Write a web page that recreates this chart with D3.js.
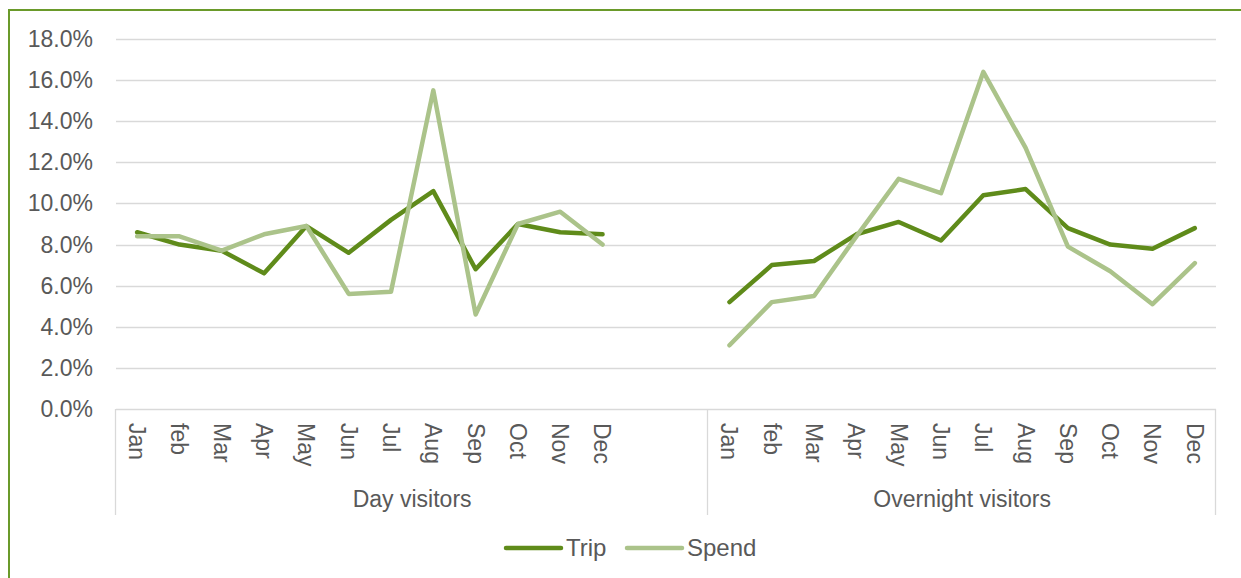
<!DOCTYPE html>
<html><head><meta charset="utf-8">
<script src="https://cdn.jsdelivr.net/npm/d3@7"></script>
<style>body{margin:0;background:#fff}svg{display:block;font-family:"Liberation Sans",Arial,sans-serif}</style>
</head><body><svg id="c" width="1241" height="578"></svg>
<script>
const months = ["Jan","feb","Mar","Apr","May","Jun","Jul","Aug","Sep","Oct","Nov","Dec"];
const groups = ["Day visitors","Overnight visitors"];
const dayTrip = [8.6,8.0,7.7,6.6,8.9,7.6,9.2,10.6,6.8,9.0,8.6,8.5];
const daySpend = [8.4,8.4,7.7,8.5,8.9,5.6,5.7,15.5,4.6,9.0,9.6,8.0];
const nightTrip = [5.2,7.0,7.2,8.5,9.1,8.2,10.4,10.7,8.8,8.0,7.8,8.8];
const nightSpend = [3.1,5.2,5.5,8.4,11.2,10.5,16.4,12.7,7.9,6.7,5.1,7.1];
const yTicks = [0,2,4,6,8,10,12,14,16,18];
const colors = {Trip:"#5F8B1A", Spend:"#ABC38A"};

// category slots: day group has 12 months + 2 blank slots, overnight has 12
const slots = [];
months.forEach((m,i)=>slots.push({g:0,m,i,key:"d"+i}));
slots.push({g:0,m:"",key:"b1"},{g:0,m:"",key:"b2"});
months.forEach((m,i)=>slots.push({g:1,m,i,key:"n"+i}));

const svg = d3.select("#c");
const L=116, R=1216, T=39, B=409;
const FS = 23;
const x = d3.scaleBand().domain(slots.map(s=>s.key)).range([L,R]);
const y = d3.scaleLinear().domain([0,18]).range([B,T]);

// outer border
svg.append("rect").attr("x",9).attr("y",10).attr("width",1250).attr("height",600)
  .attr("fill","none").attr("stroke","#6A9A2A").attr("stroke-width",2);

// gridlines
svg.append("g").selectAll("line").data(yTicks.filter(d=>d>0)).join("line")
  .attr("x1",L).attr("x2",R).attr("y1",d=>Math.round(y(d))+0.5).attr("y2",d=>Math.round(y(d))+0.5)
  .attr("stroke","#D9D9D9").attr("stroke-width",1.3);

// y labels
svg.append("g").selectAll("text").data(yTicks).join("text")
  .attr("x",93).attr("y",d=>y(d)).attr("dy","0.35em").attr("text-anchor","end")
  .attr("font-size",FS).attr("fill","#595959").text(d=>d.toFixed(1)+"%");

// x axis line & group separators
svg.append("line").attr("x1",L).attr("x2",R).attr("y1",B+0.5).attr("y2",B+0.5).attr("stroke","#D9D9D9").attr("stroke-width",1.3);
const sepX = [L, x("n0"), R];
svg.append("g").selectAll("line").data(sepX).join("line")
  .attr("x1",d=>Math.round(d)-0.5).attr("x2",d=>Math.round(d)-0.5).attr("y1",B).attr("y2",515)
  .attr("stroke","#D9D9D9").attr("stroke-width",1.3);

// month labels (rotated)
svg.append("g").selectAll("text").data(slots.filter(s=>s.m)).join("text")
  .attr("transform",s=>`translate(${x(s.key)+x.bandwidth()/2},423) rotate(90)`)
  .attr("dy","0.35em").attr("font-size",FS).attr("fill","#595959").text(s=>s.m);

// group labels
const gCenters = [(L+x("n0"))/2, (x("n0")+R)/2];
svg.append("g").selectAll("text").data(groups).join("text")
  .attr("x",(d,i)=>gCenters[i]).attr("y",507).attr("text-anchor","middle")
  .attr("font-size",FS).attr("fill","#595959").text(d=>d);

// lines
const line = d3.line().x(d=>x(d.k)+x.bandwidth()/2).y(d=>y(d.v));
const mk = (arr,p)=>arr.map((v,i)=>({k:p+i,v}));
const data = [
  {s:"Trip",pts:mk(dayTrip,"d")},{s:"Trip",pts:mk(nightTrip,"n")},
  {s:"Spend",pts:mk(daySpend,"d")},{s:"Spend",pts:mk(nightSpend,"n")}
];
data.forEach(d=>{
  svg.append("path").attr("d",line(d.pts)).attr("fill","none").attr("stroke",colors[d.s])
    .attr("stroke-width",4.5).attr("stroke-linejoin","round").attr("stroke-linecap","round");
});

// legend
const leg = [{s:"Trip",x:506},{s:"Spend",x:627}];
leg.forEach(l=>{
  svg.append("line").attr("x1",l.x).attr("x2",l.x+55).attr("y1",548).attr("y2",548)
    .attr("stroke",colors[l.s]).attr("stroke-width",4.5).attr("stroke-linecap","round");
  svg.append("text").attr("x",l.x+60).attr("y",548).attr("dy","0.35em").attr("font-size",24)
    .attr("fill","#595959").text(l.s);
});
</script></body></html>
